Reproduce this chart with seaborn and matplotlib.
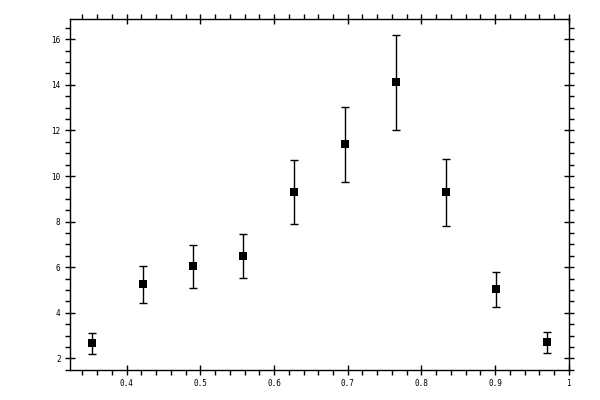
import matplotlib
matplotlib.use("Agg")
import matplotlib.pyplot as plt
from matplotlib.ticker import MultipleLocator
import seaborn as sns
import pandas as pd

x_values = [0.353, 0.4226, 0.4905, 0.5585, 0.6273, 0.6957, 0.765, 0.833, 0.9008, 0.970]
y_values = [2.66, 5.25, 6.04, 6.48, 9.30, 11.39, 14.11, 9.28, 5.03, 2.70]
y_errors = [0.46, 0.82, 0.94, 0.97, 1.41, 1.65, 2.07, 1.46, 0.77, 0.46]

df = pd.DataFrame({"x": x_values, "y": y_values, "err": y_errors})

sns.set_style("ticks")
plt.rcParams["font.family"] = ["DejaVu Sans Mono", "DejaVu Sans"]

fig = plt.figure(figsize=(6, 4), dpi=100)
ax = fig.add_axes([0.116, 0.075, 0.832, 0.8775])

ax.errorbar(df["x"], df["y"], yerr=df["err"], fmt="none", ecolor="black",
            elinewidth=1.0, capsize=3.2, capthick=1.0, zorder=2)
sns.scatterplot(data=df, x="x", y="y", marker="s", s=27, color="black",
                edgecolor="black", linewidth=0, ax=ax, zorder=3)

ax.set_xlim(0.3226, 1.0)
ax.set_ylim(1.49, 16.89)
ax.xaxis.set_major_locator(MultipleLocator(0.1))
ax.xaxis.set_minor_locator(MultipleLocator(0.02))
ax.yaxis.set_major_locator(MultipleLocator(2))
ax.yaxis.set_minor_locator(MultipleLocator(0.5))
ax.xaxis.set_major_formatter(plt.FuncFormatter(lambda v, p: ("%g" % round(v, 3))))
ax.set_xlabel("")
ax.set_ylabel("")

for sp in ax.spines.values():
    sp.set_visible(True)
    sp.set_linewidth(1.0)
    sp.set_color("black")

ax.tick_params(which="major", direction="inout", length=7, width=1.0,
               top=True, right=True, labelsize=5.5, pad=3, colors="black")
ax.tick_params(which="minor", direction="out", length=3.5, width=1.0,
               top=True, right=True, colors="black")
ax.tick_params(labeltop=False, labelright=False)

fig.savefig("out.png", dpi=100)
